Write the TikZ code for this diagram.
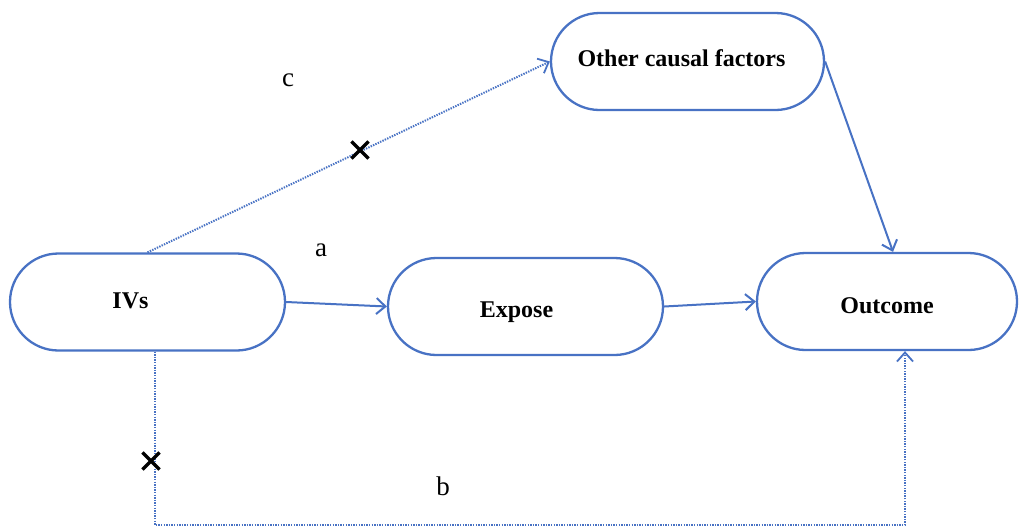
\documentclass[tikz,border=0pt]{standalone}
\usepackage{fontspec}
\setmainfont{Liberation Serif}
\usetikzlibrary{arrows.meta,shapes.misc}
\definecolor{lineblue}{RGB}{72,114,196}
\tikzset{
  pill/.style={draw=lineblue, line width=2.3pt, rounded rectangle, rounded rectangle arc length=180,
    minimum height=97pt, inner sep=0pt, font=\fontsize{24}{28}\selectfont\bfseries},
  conn/.style={draw=lineblue, line width=2pt, -{Straight Barb[length=9pt,width=16pt,line width=2pt]}},
  dotconn/.style={draw=lineblue, line width=2pt, dash pattern=on 1.4pt off 1.2pt,
    -{Straight Barb[length=9pt,width=16pt,line width=1.8pt]}},
  xmark/.style={cross out, draw=black, line width=3.2pt, minimum size=14pt, inner sep=0pt},
  lbl/.style={font=\fontsize{27}{30}\selectfont}
}
\begin{document}
\begin{tikzpicture}[x=1pt,y=-1pt]
\useasboundingbox[fill=white] (0,0) rectangle (1019,528);
\node[pill, minimum width=275pt] (ivs) at (147.5,302) {\hspace*{-34pt}\smash{\raisebox{-6pt}{IVs}}};
\node[pill, minimum width=275pt] (expose) at (525.5,306.5) {\hspace*{-18pt}\smash{\raisebox{-10.5pt}{Expose}}};
\node[pill, minimum width=260pt] (outcome) at (887,301.5) {\smash{\raisebox{-12pt}{Outcome}}};
\node[pill, minimum width=273pt] (other) at (687.5,61.5) {\hspace*{-12pt}\smash{\raisebox{-5pt}{Other causal factors}}};
\coordinate (c1) at (155,525);
\coordinate (c2) at (905,525);
\draw[conn] (ivs.east) -- (expose.west);
\draw[conn] (expose.east) -- (outcome.west);
\draw[conn] (other.east) -- ([xshift=6pt]outcome.north);
\draw[dotconn] (ivs.north) -- (other.west);
\draw[dotconn] ([xshift=7.5pt]ivs.south) -- (c1) -- (c2) -- ([xshift=18pt]outcome.south);
\node[xmark] (x1) at (360,150) {};
\node[xmark] (x2) at (151,461) {};
\node[lbl] (lc) at (288,80) {c};
\node[lbl] (la) at (321,250) {a};
\node[lbl] (lb) at (443,486) {b};
\end{tikzpicture}
\end{document}
